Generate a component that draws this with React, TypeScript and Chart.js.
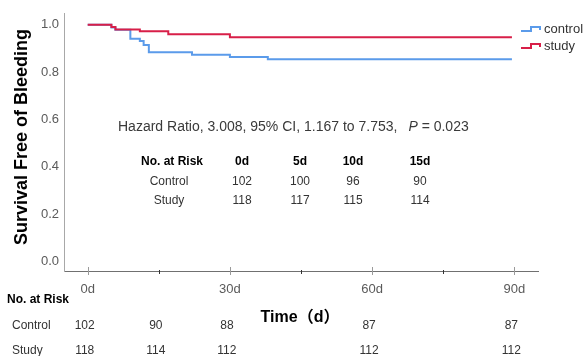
import React, { useEffect, useRef } from "react";
import { Chart, registerables } from "chart.js";

Chart.register(...registerables);

// Kaplan-Meier step data (time in days, survival free of bleeding)
const controlDays = [0, 5.0, 5.85, 9.0, 11.0, 11.8, 12.9, 22.0, 30.0, 38.0, 89.5];
const controlSurvival = [1.0, 0.989, 0.979, 0.941, 0.932, 0.915, 0.884, 0.874, 0.864, 0.855, 0.855];
const studyDays = [0, 5.0, 5.85, 11.0, 17.0, 30.0, 89.5];
const studySurvival = [1.0, 0.991, 0.98, 0.973, 0.96, 0.948, 0.948];

const seriesNames = ["control", "study"];
const seriesColors = ["#5b9bea", "#d81f48"];

const yTickValues = [0, 0.2, 0.4, 0.6, 0.8, 1.0];
const xMajorDays = [0, 30, 60, 90];
const xMajorLabels = ["0d", "30d", "60d", "90d"];
const xMinorDays = [15, 45, 75];

const riskDays = [0, 15, 30, 60, 90];
const riskControl = [102, 90, 88, 87, 87];
const riskStudy = [118, 114, 112, 112, 112];

const innerHeaders = ["0d", "5d", "10d", "15d"];
const innerControl = [102, 100, 96, 90];
const innerStudy = [118, 117, 115, 114];

const hazardText = "Hazard Ratio, 3.008, 95% CI, 1.167 to 7.753,";
const pText = " = 0.023";

const FONT = '"Liberation Sans", Arial, sans-serif';

const overlayPlugin = {
  id: "kmOverlay",
  afterDraw(chart: any) {
    const ctx = chart.ctx as CanvasRenderingContext2D;
    const xs = chart.scales.x;
    const ys = chart.scales.y;
    const area = chart.chartArea;
    ctx.save();

    // Y tick labels
    ctx.fillStyle = "#5a5a5a";
    ctx.font = `13px ${FONT}`;
    ctx.textAlign = "right";
    ctx.textBaseline = "middle";
    yTickValues.forEach((v) => {
      ctx.fillText(v.toFixed(1), area.left - 5, ys.getPixelForValue(v));
    });

    // X ticks (major + minor)
    const axisY = area.bottom;
    ctx.lineWidth = 1;
    ctx.strokeStyle = "#9a9a9a";
    xMajorDays.forEach((d) => {
      const x = Math.round(xs.getPixelForValue(d)) + 0.5;
      ctx.beginPath();
      ctx.moveTo(x, axisY - 4);
      ctx.lineTo(x, axisY + 4);
      ctx.stroke();
    });
    ctx.strokeStyle = "#333";
    xMinorDays.forEach((d) => {
      const x = Math.round(xs.getPixelForValue(d)) + 0.5;
      ctx.beginPath();
      ctx.moveTo(x, axisY - 1);
      ctx.lineTo(x, axisY + 3);
      ctx.stroke();
    });

    // X tick labels
    ctx.fillStyle = "#5a5a5a";
    ctx.font = `13px ${FONT}`;
    ctx.textAlign = "center";
    ctx.textBaseline = "middle";
    xMajorDays.forEach((d, i) => {
      ctx.fillText(xMajorLabels[i], xs.getPixelForValue(d), 289);
    });

    // Y title
    ctx.save();
    ctx.translate(22, 137);
    ctx.rotate(-Math.PI / 2);
    ctx.fillStyle = "#000";
    ctx.font = `bold 18px ${FONT}`;
    ctx.textAlign = "center";
    ctx.textBaseline = "middle";
    ctx.fillText("Survival Free of Bleeding", 0, 0);
    ctx.restore();

    // X title
    ctx.fillStyle = "#000";
    ctx.font = `bold 16px ${FONT}, "Noto Sans CJK SC"`;
    ctx.textAlign = "center";
    ctx.textBaseline = "middle";
    ctx.fillText("Time（d）", 300, 318);

    // Legend
    const legendY = [29, 46];
    seriesNames.forEach((name, i) => {
      const y = legendY[i];
      ctx.strokeStyle = seriesColors[i];
      ctx.lineWidth = 2;
      ctx.beginPath();
      ctx.moveTo(521, y + 2);
      ctx.lineTo(531, y + 2);
      ctx.lineTo(531, y - 2);
      ctx.lineTo(540, y - 2);
      ctx.lineTo(540, y + 1);
      ctx.stroke();
      ctx.fillStyle = "#333";
      ctx.font = `13px ${FONT}`;
      ctx.textAlign = "left";
      ctx.textBaseline = "middle";
      ctx.fillText(name, 544, y);
    });

    // Hazard ratio annotation
    ctx.fillStyle = "#3a3a3a";
    ctx.font = `14px ${FONT}`;
    ctx.textAlign = "left";
    ctx.textBaseline = "middle";
    ctx.fillText(hazardText, 118, 127);
    const w1 = ctx.measureText(hazardText).width;
    const pX = 118 + w1 + 11;
    ctx.font = `italic 14px ${FONT}`;
    ctx.fillText("P", pX, 127);
    const wp = ctx.measureText("P").width;
    ctx.font = `14px ${FONT}`;
    ctx.fillText(pText, pX + wp, 127);

    // Inner risk table
    const innerCols = [242, 300, 353, 420];
    ctx.textAlign = "center";
    ctx.fillStyle = "#000";
    ctx.font = `bold 12px ${FONT}`;
    ctx.fillText("No. at Risk", 172, 162);
    innerHeaders.forEach((h, i) => ctx.fillText(h, innerCols[i], 162));
    ctx.fillStyle = "#333";
    ctx.font = `12px ${FONT}`;
    ctx.fillText("Control", 169, 182);
    ctx.fillText("Study", 169, 201);
    innerControl.forEach((v, i) => ctx.fillText(String(v), innerCols[i], 182));
    innerStudy.forEach((v, i) => ctx.fillText(String(v), innerCols[i], 201));

    // Bottom risk table
    ctx.textAlign = "left";
    ctx.fillStyle = "#000";
    ctx.font = `bold 12px ${FONT}`;
    ctx.fillText("No. at Risk", 7, 300);
    ctx.fillStyle = "#333";
    ctx.font = `12px ${FONT}`;
    ctx.fillText("Control", 12, 326);
    ctx.fillText("Study", 12, 351);
    ctx.textAlign = "center";
    riskDays.forEach((d, i) => {
      const x = xs.getPixelForValue(d) - 3;
      ctx.fillText(String(riskControl[i]), x, 326);
      ctx.fillText(String(riskStudy[i]), x, 351);
    });

    ctx.restore();
  },
};

export default function App() {
  const canvasRef = useRef<HTMLCanvasElement | null>(null);

  useEffect(() => {
    const canvas = canvasRef.current;
    if (!canvas) return;
    const chart = new Chart(canvas, {
      type: "line",
      data: {
        datasets: [
          {
            label: seriesNames[0],
            data: controlDays.map((d, i) => ({ x: d, y: controlSurvival[i] })),
            borderColor: seriesColors[0],
            borderWidth: 2,
            pointRadius: 0,
            stepped: "before",
            fill: false,
            order: 1,
          },
          {
            label: seriesNames[1],
            data: studyDays.map((d, i) => ({ x: d, y: studySurvival[i] })),
            borderColor: seriesColors[1],
            borderWidth: 2,
            pointRadius: 0,
            stepped: "before",
            fill: false,
            order: 0,
          },
        ],
      },
      options: {
        animation: false,
        responsive: false,
        devicePixelRatio: 1,
        layout: { padding: { left: 64, top: 13, right: 47, bottom: 85 } },
        plugins: { legend: { display: false }, tooltip: { enabled: false } },
        scales: {
          x: {
            type: "linear",
            min: -5,
            max: 95,
            grid: { display: false },
            ticks: { display: false },
            border: { display: true, color: "#707070", width: 1 },
            afterFit: (s: any) => {
              s.height = 0;
            },
          },
          y: {
            type: "linear",
            min: -0.04,
            max: 1.05,
            grid: { display: false },
            ticks: { display: false },
            border: { display: true, color: "#a8a8a8", width: 1 },
            afterFit: (s: any) => {
              s.width = 0;
            },
          },
        },
      },
      plugins: [overlayPlugin],
    } as any);
    return () => chart.destroy();
  }, []);

  return (
    <div style={{ position: "absolute", left: 0, top: 0, width: 585, height: 356, background: "#fff" }}>
      <canvas ref={canvasRef} width={585} height={356} />
    </div>
  );
}
